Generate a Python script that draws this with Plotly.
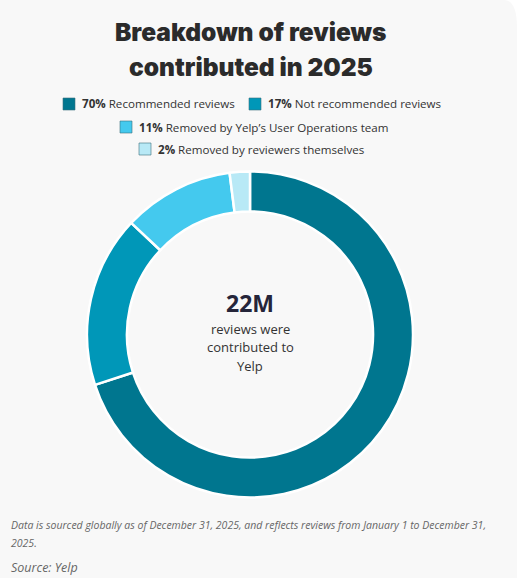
import plotly.graph_objects as go

W, H = 517, 578

categories = ["Recommended reviews", "Not recommended reviews",
              "Removed by Yelp’s User Operations team", "Removed by reviewers themselves"]
values = [70, 17, 11, 2]
colors = ["#00768f", "#0097b8", "#44c9ee", "#b8e9f6"]

title_lines = ["Breakdown of reviews", "contributed in 2025"]
center_big = "22M"
center_small = ["reviews were", "contributed to", "Yelp"]
footnote = ["Data is sourced globally as of December 31, 2025, and reflects reviews from January 1 to December 31,", "2025."]
source = "Source: Yelp"

# legend layout (pixel positions of squares: x, y-center)
legend_pos = [(63, 104), (249, 104), (120, 127), (139, 149)]

def px_x(x):
    return x / W

def px_y(y):
    return 1 - y / H

fig = go.Figure()
cx, cy, r = 250, 334.5, 163
fig.add_trace(go.Pie(
    values=values, labels=categories, sort=False, direction="clockwise", rotation=0,
    hole=0.755, marker=dict(colors=colors, line=dict(color="#ffffff", width=2.5)),
    textinfo="none", hoverinfo="skip", showlegend=False,
    domain=dict(x=[px_x(cx - r), px_x(cx + r)], y=[px_y(cy + r), px_y(cy - r)]),
))

ann = []
shapes = []
# rounded card corner top-right
shapes.append(dict(type="path", xref="paper", yref="paper",
                   path=f"M {px_x(504)} 1 Q {px_x(517)} 1 1 {px_y(28)} L 1 1 Z",
                   fillcolor="#ffffff", line=dict(width=0)))
# title
for i, t in enumerate(title_lines):
    ann.append(dict(text=t, x=px_x(251), y=px_y(32 + 35 * i), xref="paper", yref="paper",
                    showarrow=False, xanchor="center", yanchor="middle",
                    font=dict(family="Inter", size=24.5, color="#2b2b2b", weight=900)))
# legend
for (lx, ly), v, c, col in zip(legend_pos, values, categories, colors):
    shapes.append(dict(type="rect", xref="paper", yref="paper",
                       x0=px_x(lx), x1=px_x(lx + 12), y0=px_y(ly + 6), y1=px_y(ly - 6),
                       fillcolor=col, line=dict(color="#3a6f7c", width=0.6)))
    ann.append(dict(text=f"<b>{v}%</b> {c}", x=px_x(lx + 17), y=px_y(ly), xref="paper", yref="paper",
                    showarrow=False, xanchor="left", yanchor="middle",
                    font=dict(family="Open Sans", size=11.6, color="#333333")))
# center
ann.append(dict(text=f"<b>{center_big}</b>", x=px_x(cx), y=px_y(303), xref="paper", yref="paper",
                showarrow=False, xanchor="center", yanchor="middle",
                font=dict(family="Open Sans", size=23, color="#25253a")))
for i, t in enumerate(center_small):
    ann.append(dict(text=t, x=px_x(cx), y=px_y(328.5 + 18.5 * i), xref="paper", yref="paper",
                    showarrow=False, xanchor="center", yanchor="middle",
                    font=dict(family="Open Sans", size=13, color="#333333")))
# footnote
for i, t in enumerate(footnote):
    ann.append(dict(text=f"<i>{t}</i>", x=px_x(9), y=px_y(525 + 18 * i), xref="paper", yref="paper",
                    showarrow=False, xanchor="left", yanchor="middle",
                    font=dict(family="Open Sans", size=10.5, color="#666666")))
ann.append(dict(text=f"<i>{source}</i>", x=px_x(9), y=px_y(567), xref="paper", yref="paper",
                showarrow=False, xanchor="left", yanchor="middle",
                font=dict(family="Open Sans", size=12.5, color="#666666")))

fig.update_layout(
    width=W, height=H, margin=dict(l=0, r=0, t=0, b=0),
    paper_bgcolor="#f8f8f8", plot_bgcolor="#f8f8f8",
    annotations=ann, shapes=shapes, showlegend=False,
)
fig.write_html("out.html", config={"displayModeBar": False})
